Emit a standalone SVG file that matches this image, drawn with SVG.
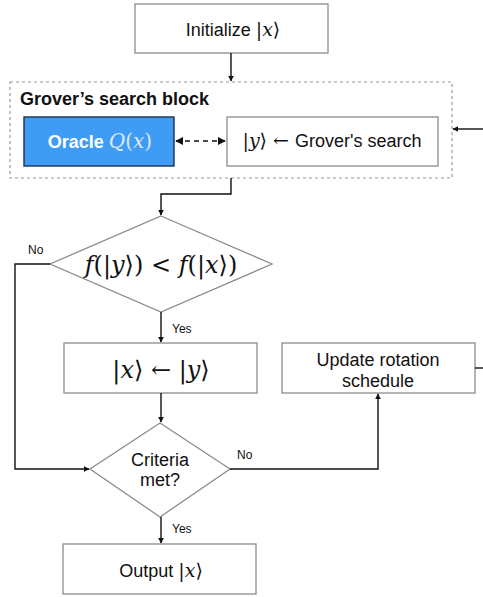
<svg xmlns="http://www.w3.org/2000/svg" width="483" height="597" viewBox="0 0 483 597">
<style>
.box{fill:#fff;stroke:#8c8c8c;stroke-width:1.3}
.dia{fill:#fff;stroke:#8c8c8c;stroke-width:1.3}
.t{font-family:"Liberation Sans",Arial,sans-serif;fill:#111}
.m{font-family:"DejaVu Serif","Liberation Serif",serif;fill:#111}
.i{font-style:italic}
.c{fill:none;stroke:#111;stroke-width:1.4}
.lbl{font-family:"Liberation Sans",Arial,sans-serif;font-size:12px;fill:#111}
</style>
<defs>
<marker id="ah" viewBox="0 0 10 10" refX="9" refY="5" markerWidth="6" markerHeight="6" orient="auto" markerUnits="userSpaceOnUse">
<path d="M0,0 L10,5 L0,10 z" fill="#111"/>
</marker>
<marker id="ah2" viewBox="0 0 10 10" refX="9" refY="5" markerWidth="8" markerHeight="8" orient="auto" markerUnits="userSpaceOnUse">
<path d="M0,0 L10,5 L0,10 z" fill="#111"/>
</marker>
<marker id="as2" viewBox="0 0 10 10" refX="1" refY="5" markerWidth="8" markerHeight="8" orient="auto" markerUnits="userSpaceOnUse">
<path d="M10,0 L0,5 L10,10 z" fill="#111"/>
</marker>
</defs>

<g id="init">
<rect class="box" x="135" y="4" width="193" height="49"/>
<text x="233" y="36" text-anchor="middle"><tspan class="t" font-size="18">Initialize </tspan><tspan class="m" font-size="19">|<tspan class="i">x</tspan>⟩</tspan></text>
</g>

<g id="grover-block">
<rect x="10" y="82" width="442" height="96" fill="none" stroke="#999" stroke-width="1.2" stroke-dasharray="3,3"/>
<text class="t" x="20" y="105" font-size="18" font-weight="bold">Grover’s search block</text>
</g>

<g id="oracle">
<rect x="24" y="117" width="150" height="49" fill="#3f9cf5" stroke="#1b2f4d" stroke-width="1.4"/>
<text x="100" y="147.5" text-anchor="middle"><tspan font-family="Liberation Sans,Arial,sans-serif" font-size="18" font-weight="bold" fill="#fff">Oracle </tspan><tspan font-family="DejaVu Serif,serif" font-size="20" fill="#dde9fb" font-style="italic">Q</tspan><tspan font-family="DejaVu Serif,serif" font-size="20" fill="#dde9fb">(<tspan font-style="italic">x</tspan>)</tspan></text>
</g>

<g id="grover-search">
<rect class="box" x="227" y="117" width="211" height="49"/>
<text x="332" y="147" text-anchor="middle"><tspan class="m" font-size="19">|<tspan class="i">y</tspan>⟩ ← </tspan><tspan class="t" font-size="18">Grover's search</tspan></text>
</g>

<g id="compare">
<polygon class="dia" points="161,216 272,264 161,312 50,264"/>
<text class="m" x="161" y="273" text-anchor="middle" font-size="24"><tspan class="i">f</tspan>(|<tspan class="i">y</tspan>⟩) &lt; <tspan class="i">f</tspan>(|<tspan class="i">x</tspan>⟩)</text>
</g>

<g id="assign">
<rect class="box" x="64" y="343" width="193" height="50"/>
<text class="m" x="161" y="378" text-anchor="middle" font-size="24">|<tspan class="i">x</tspan>⟩ ← |<tspan class="i">y</tspan>⟩</text>
</g>

<g id="update">
<rect class="box" x="282" y="343" width="193" height="50"/>
<text class="t" x="378" y="366" text-anchor="middle" font-size="18">Update rotation</text>
<text class="t" x="378" y="387" text-anchor="middle" font-size="18">schedule</text>
</g>

<g id="criteria">
<polygon class="dia" points="160,423 230,469 160,517 90,469"/>
<text class="t" x="160" y="466" text-anchor="middle" font-size="18">Criteria</text>
<text class="t" x="160" y="486" text-anchor="middle" font-size="18">met?</text>
</g>

<g id="output">
<rect class="box" x="63" y="544" width="193" height="50"/>
<text x="161" y="577" text-anchor="middle"><tspan class="t" font-size="18">Output </tspan><tspan class="m" font-size="19">|<tspan class="i">x</tspan>⟩</tspan></text>
</g>

<g id="connectors">
<path class="c" d="M231,53 V81" marker-end="url(#ah)"/>
<path class="c" d="M176,141 H225" stroke-width="2" stroke-dasharray="5,4" marker-start="url(#as2)" marker-end="url(#ah2)"/>
<path class="c" d="M483,129 H453" marker-end="url(#ah)"/>
<path class="c" d="M231,178 V194 H161 V215" marker-end="url(#ah)"/>
<path class="c" d="M50,264 H15 V469 H89" marker-end="url(#ah)"/>
<path class="c" d="M161,312 V342" marker-end="url(#ah)"/>
<path class="c" d="M161,393 V422" marker-end="url(#ah)"/>
<path class="c" d="M230,469 H378 V394" marker-end="url(#ah)"/>
<path class="c" d="M161,517 V543" marker-end="url(#ah)"/>
<path class="c" d="M475,368 H483"/>
<text class="lbl" x="28" y="254">No</text>
<text class="lbl" x="172" y="333">Yes</text>
<text class="lbl" x="237" y="459">No</text>
<text class="lbl" x="172" y="533">Yes</text>
</g>
</svg>
